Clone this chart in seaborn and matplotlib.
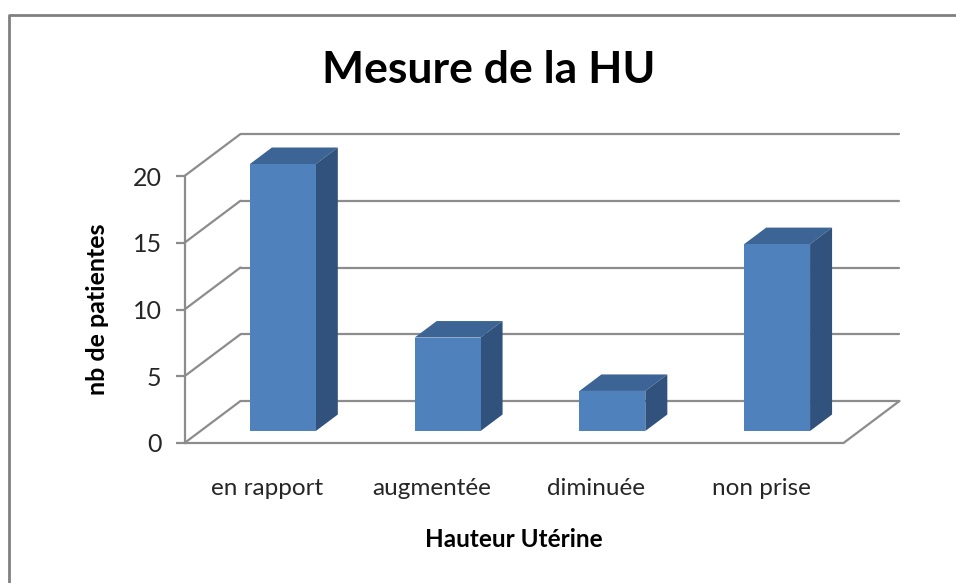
import matplotlib

matplotlib.use("Agg")
import matplotlib.pyplot as plt
import pandas as pd
import seaborn as sns
from matplotlib.lines import Line2D
from matplotlib.patches import Polygon

# Data
categories = ["en rapport", "augmentée", "diminuée", "non prise"]
patientes = [20, 7, 3, 14]
y_ticks = [0, 5, 10, 15, 20]

W, H = 956, 583
GRAY = "#8c8c8c"
TEXT = "#262626"
FRONT = "#4f81bd"
TOP = "#3c6494"
SIDE = "#30527c"

sns.set_theme(style="white")
plt.rcParams["font.family"] = ["Lato", "DejaVu Sans"]

fig = plt.figure(figsize=(W / 100, H / 100), dpi=100)
# Axes box = the front edge of the fake 3D floor and left wall
left, right, top, bottom = 184.5, 843.5, 176, 443
ax = fig.add_axes([left / W, 1 - bottom / H, (right - left) / W, (bottom - top) / H])

df = pd.DataFrame({"categorie": categories, "patientes": patientes})
sns.barplot(data=df, x="categorie", y="patientes", ax=ax, color=FRONT, saturation=1, width=0.4,
            linewidth=0, edgecolor="none", zorder=4)
ax.set_xlim(-0.5, 3.5)
ax.set_ylim(0, 20)

# Pixel sizes converted to data units
px_x = (right - left) / 4
px_y = (bottom - top) / 20
wall_dx, wall_dy = 56 / px_x, 42 / px_y
bar_dx, bar_dy = 16 / px_x, 12 / px_y
depth_dx, depth_dy = 22 / px_x, 16.5 / px_y

# Walls and floor
for v in y_ticks:
    ax.plot([-0.5, -0.5 + wall_dx], [v, v + wall_dy], color=GRAY, lw=1.6, clip_on=False, zorder=1)
    ax.plot([-0.5 + wall_dx, 3.5 + wall_dx], [v + wall_dy, v + wall_dy], color=GRAY, lw=1.6, clip_on=False, zorder=1)
ax.plot([3.5, 3.5 + wall_dx], [0, wall_dy], color=GRAY, lw=1.6, clip_on=False, zorder=1)

# Shift the bars onto the floor and add their top and side faces
for bar in ax.patches:
    x0 = bar.get_x() + bar_dx
    x1 = x0 + bar.get_width()
    y0 = bar_dy
    y1 = y0 + bar.get_height()
    bar.set_x(x0)
    bar.set_y(y0)
    bar.set_clip_on(False)
    ax.add_patch(Polygon(
        [(x0, y1), (x1, y1), (x1 + depth_dx, y1 + depth_dy), (x0 + depth_dx, y1 + depth_dy)],
        closed=True, facecolor=TOP, edgecolor="none", clip_on=False, zorder=3,
    ))
    ax.add_patch(Polygon(
        [(x1, y0), (x1 + depth_dx, y0 + depth_dy), (x1 + depth_dx, y1 + depth_dy), (x1, y1)],
        closed=True, facecolor=SIDE, edgecolor="none", clip_on=False, zorder=3,
    ))

ax.set_facecolor("none")
sns.despine(ax=ax, top=True, right=True)
ax.spines["left"].set_color(GRAY)
ax.spines["bottom"].set_color(GRAY)
ax.spines["left"].set_linewidth(1.6)
ax.spines["bottom"].set_linewidth(1.6)

ax.set_yticks(y_ticks)
ax.tick_params(axis="y", left=True, length=6.5, width=1.6, color=GRAY, labelsize=18, labelcolor=TEXT, pad=10)
ax.tick_params(axis="x", bottom=False, labelsize=17.5, labelcolor=TEXT, pad=19)

ax.set_xlabel("Hauteur Utérine", fontsize=17.5, fontweight="bold", color="black", labelpad=21)
ax.set_ylabel("nb de patientes", fontsize=18, fontweight="bold", color="black")
ax.yaxis.set_label_coords((109 - left) / (right - left), (bottom - 309) / (bottom - top))
ax.set_title("Mesure de la HU", fontsize=32, fontweight="bold", color="black", x=(489 - left) / (right - left), pad=67)

# Chart frame, only its left and top edges are in the picture
fig.add_artist(Line2D([8.5 / W, 8.5 / W, 1], [0, 1 - 14.5 / H, 1 - 14.5 / H], color="#808080", lw=2))

fig.savefig("out.png", dpi=100)
